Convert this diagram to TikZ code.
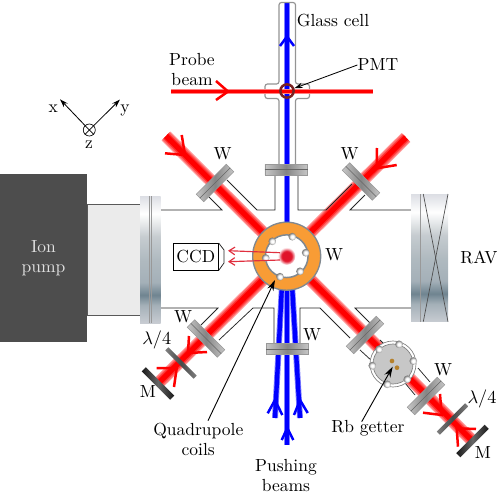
\documentclass[tikz,border=0pt]{standalone}
\usepackage{amsmath}
\usepackage{tikz}
\usetikzlibrary{arrows.meta,positioning,calc}
\definecolor{coil}{HTML}{F89C35}
\definecolor{rimgray}{HTML}{808890}
\definecolor{pump}{HTML}{4D4D4D}
\definecolor{tube}{HTML}{EBEBEB}
\definecolor{pmtred}{HTML}{7A2222}
\definecolor{brown}{HTML}{B5802A}
\definecolor{ccdred}{HTML}{E0303F}
\definecolor{motred}{HTML}{E0142A}
\definecolor{flga}{HTML}{DCDEE4}
\definecolor{flgb}{HTML}{C6CCD0}
\definecolor{flgc}{HTML}{B0BAC0}
\definecolor{flgd}{HTML}{A4B0B8}
\definecolor{flge}{HTML}{6F8490}
\definecolor{flgf}{HTML}{C8CCD2}
\pgfdeclareverticalshading{flange}{100bp}{color(0bp)=(flgf);color(25bp)=(flgf);color(32bp)=(flgd);color(36bp)=(flge);color(41bp)=(flgd);color(50bp)=(flgc);color(59bp)=(flgb);color(68bp)=(white);color(75bp)=(flga);color(100bp)=(flga)}
\pgfdeclareradialshading{motcloud}{\pgfpoint{0bp}{0bp}}{color(0bp)=(motred);color(14bp)=(motred);color(25bp)=(white);color(50bp)=(white)}
\pgfdeclareradialshading{bead}{\pgfpoint{0bp}{0bp}}{color(0bp)=(white);color(11bp)=(white);color(25bp)=(black!55);color(50bp)=(black!55)}

\begin{document}
\begin{tikzpicture}[
  x=0.6pt,y=-0.6pt,>=Stealth,
  font=\fontsize{10.5}{12}\selectfont,
  lbl/.style={inner sep=0pt, align=center},
  wall/.style={line width=0.45pt, color=black!85},
  leader/.style={-{Stealth[length=5pt,width=3.2pt]}, line width=0.5pt, color=black},
  bigleader/.style={-{Stealth[length=6.5pt,width=4pt]}, line width=0.55pt, color=black},
  chevr/.style={line width=1.5pt, color=red, line join=miter},
  chevb/.style={line width=1.5pt, color=blue, line join=miter},
  redbeam/.style={line width=7.6pt, color=red!38, postaction={draw, line width=6.4pt, color=red!58}, postaction={draw, line width=4.8pt, color=red!80}, postaction={draw, line width=3.2pt, color=red}},
  thinred/.style={line width=3.4pt, color=red!50, postaction={draw, line width=2.2pt, color=red}},
  bluebeam/.style={line width=3.6pt, color=blue!50, postaction={draw, line width=2.6pt, color=blue}},
  window/.style={rectangle, draw=black!40, line width=0.3pt, left color=black!22, right color=black!22, middle color=black!48, minimum width=25.5pt, minimum height=6.4pt, inner sep=0pt},
  plate/.style={rectangle, left color=black!50, right color=black!50, middle color=black!72, minimum width=24pt, minimum height=2.6pt, inner sep=0pt},
  mirror/.style={rectangle, left color=black!90, right color=black!90, middle color=black!60, minimum width=24pt, minimum height=3.6pt, inner sep=0pt},
  flangebox/.style={rectangle, shade, shading=flange, inner sep=0pt},
  knob/.style={circle, shade, shading=bead, minimum size=4.6pt, inner sep=0pt},
]
\useasboundingbox (0,0) rectangle (498,493);

% beams
\coordinate (pu0) at (287,3);
\coordinate (pu1) at (287,445);
\coordinate (pl0) at (282,285);
\coordinate (pl1) at (275,418);
\coordinate (pr0) at (292,285);
\coordinate (pr1) at (300,418);
\coordinate (prbL) at (171,91.5);
\coordinate (prbR) at (373,91.5);
\coordinate (bmA0) at (166,136);
\coordinate (bmA1) at (472.5,441);
\coordinate (bmB0) at (406,137.5);
\coordinate (bmB1) at (158,383.5);
\draw[bluebeam] (pu0) -- (pu1);
\draw[bluebeam] (pl0) -- (pl1);
\draw[bluebeam] (pr0) -- (pr1);
\draw[redbeam] (bmA0) -- (bmA1);
\draw[redbeam] (bmB0) -- (bmB1);

% glass cell
\draw[line width=0.7pt, color=black!42, rounded corners=1.5pt] (279,164) -- (279,98.5) -- (265,98.5) -- (265,84) -- (279,84) -- (279,2.5) -- (295.5,2.5) -- (295.5,84) -- (309.5,84) -- (309.5,98.5) -- (295.5,98.5) -- (295.5,164);
\draw[thinred] (prbL) -- (prbR);
\node[circle, draw=pmtred, line width=1.5pt, minimum size=8pt, inner sep=0pt] (pmtring) at (287,91) {};

% chamber walls
\draw[wall] (160,210) -- (222,210) -- (209,197);
\draw[wall] (227,180) -- (257,210) -- (275,210) -- (275,175);
\draw[wall] (298,175) -- (298,210) -- (326,210) -- (352,184);
\draw[wall] (411,210) -- (350,210) -- (365,195);
\draw[wall] (160,308) -- (218,308) -- (201,325);
\draw[wall] (219,340) -- (253,308) -- (274,308) -- (274,343);
\draw[wall] (300,343) -- (300,308) -- (320,308) -- (350,338);
\draw[wall] (411,308) -- (355,308) -- (377,330);
\draw[wall] (360,350) -- (372,361);
\draw[wall] (380,340) -- (389,349);
\draw[wall] (405,383) -- (415,395);
\draw[wall] (418,368) -- (430,382);

% ion pump side
\node[rectangle, fill=pump, minimum width=52.2pt, minimum height=100.8pt, inner sep=0pt, text=black!12, align=center] (pumpbox) at (43.5,258) {Ion\\pump};
\node[rectangle, draw=black!65, line width=0.45pt, fill=tube, minimum width=31.8pt, minimum height=66.6pt, inner sep=0pt] (tubebox) at (113.5,259.5) {};
\node[flangebox, minimum width=12.4pt, minimum height=76.2pt] (flgL) at (150.4,259.5) {};
\draw[line width=0.25pt, color=black!40] (149,196) -- (149,323);
\draw[line width=0.25pt, color=black!40] (151.5,196) -- (151.5,323);

% RAV
\node[flangebox, minimum width=22.2pt, minimum height=76.6pt] (flgR) at (429.5,258) {};
\draw[line width=0.25pt, color=black!40] (420.7,194) -- (420.7,321.7);
\draw[line width=0.4pt, color=black!70] (423.3,194) -- (448,321.7);
\draw[line width=0.4pt, color=black!70] (448,194) -- (423.3,321.7);

% windows
\node[window] (winT) at (286.2,169.5) {};
\node[window] (winB) at (287.3,349) {};
\node[window, rotate=45] (winUL) at (215,183) {};
\node[window, rotate=-45] (winUR) at (361,181.5) {};
\node[window, rotate=-45] (winLL) at (206,338.5) {};
\node[window, rotate=45] (winLR) at (365,335) {};
\node[window, rotate=45] (winRb) at (426,396) {};
\foreach \w in {winT,winB,winUL,winUR,winLL,winLR,winRb}{
  \draw[line width=0.25pt, color=black!60] (\w.west) -- (\w.east);
}

% waveplates and mirrors
\node[plate, rotate=-45] (qwL) at (181,363) {};
\node[plate, rotate=45] (qwR) at (452.5,419) {};
\node[mirror, rotate=-45] (mirL) at (158,383.5) {};
\node[mirror, rotate=45] (mirR) at (472.5,441) {};

% quadrupole coils
\node[circle, draw=rimgray, line width=0.8pt, fill=coil, minimum size=40.8pt, inner sep=0pt] (coilring) at (286.7,256.2) {};
\node[circle, draw=rimgray, line width=0.9pt, fill=white, minimum size=25.6pt, inner sep=0pt] (coilhole) at (286.7,256.2) {};
\node[circle, shade, shading=motcloud, minimum size=10.5pt, inner sep=0pt] (mot) at (286.7,256.2) {};
\foreach \kx/\ky in {272.3/241.3,292.3/236.7,305.7/252.7,300/271.3,280/276.7,265.7/258}{
  \node[knob] at (\kx,\ky) {};
}

% getter
\node[circle, draw=black!50, line width=0.4pt, fill=white, minimum size=27.6pt, inner sep=0pt] (gtout) at (393,364) {};
\node[circle, draw=black!50, line width=0.4pt, fill=black!22, minimum size=24pt, inner sep=0pt] (gtin) at (393,364) {};
\foreach \kx/\ky in {379/349.3,399/344.3,413.3/361,407.3/379.3,387.3/384.3,372.3/365.7}{
  \node[knob] at (\kx,\ky) {};
}
\node[circle, fill=brown, minimum size=2.8pt, inner sep=0pt] (rbA) at (392,361) {};
\node[circle, fill=brown, minimum size=2.8pt, inner sep=0pt] (rbB) at (397,367.7) {};

% CCD
\node[draw, line width=0.45pt, fill=white, minimum width=27pt, minimum height=16pt, inner sep=0pt] (ccd) at (195.8,256.7) {CCD};
\draw[wall] (ccd.north east) -- (224,250) -- (224,263) -- (ccd.south east);
\coordinate (imgA) at (280,252.7);
\coordinate (imgB) at (280,260);
\coordinate (ccdA) at (228,250.7);
\coordinate (ccdB) at (228,261.7);
\draw[-{Straight Barb[length=3.5pt,width=4.6pt]}, line width=0.7pt, color=ccdred] (imgA) -- (ccdA);
\draw[-{Straight Barb[length=3.5pt,width=4.6pt]}, line width=0.7pt, color=ccdred] (imgB) -- (ccdB);

% beam arrows
\draw[chevb] (280,46) -- (287,36.5) -- (294,46);
\draw[chevb] (267.7,413.3) -- (275,400) -- (282.3,415);
\draw[chevb] (294,415) -- (300,400) -- (307.7,413);
\draw[chevb] (281.7,440) -- (287.3,428) -- (293.3,440);
\draw[chevr] (216,81) -- (228,91.5) -- (216,100);
\draw[chevr] (181.7,135) -- (185,155) -- (165,153.3);
\draw[chevr] (377,148) -- (376.7,168.3) -- (396.7,165);
\draw[chevr] (189,336) -- (188,353) -- (207,352);
\draw[chevr] (156.7,368) -- (176.7,368) -- (174,387);
\draw[chevr] (440,394) -- (441.7,415) -- (423,412.7);
\draw[chevr] (476,429) -- (456.7,428.3) -- (458,446.7);

% axes
\node[circle, draw, line width=0.4pt, minimum size=7.2pt, inner sep=0pt] (zaxis) at (89.3,130) {};
\draw[line width=0.4pt] (zaxis.north west) -- (zaxis.south east);
\draw[line width=0.4pt] (zaxis.north east) -- (zaxis.south west);
\coordinate (xtip) at (60,99.3);
\coordinate (ytip) at (120,99.5);
\draw[leader] (zaxis) -- (xtip);
\draw[leader] (zaxis) -- (ytip);
\node[lbl] (lblx) at (53.3,109) {x};
\node[lbl] (lbly) at (125,111) {y};
\node[lbl] (lblz) at (89,145) {z};

% labels
\node[lbl] (lblcell) at (333,21) {Glass cell};
\node[lbl] (lblprobe) at (192,69.5) {Probe\\beam};
\node[lbl] (lblpmt) at (378,65) {PMT};
\node[lbl] (lblrav) at (479,257) {RAV};
\node[lbl] at (222.7,154) {W};
\node[lbl] at (349.5,154) {W};
\node[lbl] at (334,255) {W};
\node[lbl] at (183,316.7) {W};
\node[lbl] at (312,335) {W};
\node[lbl] at (443,370) {W};
\node[lbl] at (156.7,340) {$\lambda/4$};
\node[lbl] at (482,399) {$\lambda/4$};
\node[lbl] at (148,391.7) {M};
\node[lbl] at (483,452.7) {M};
\node[lbl] (lblquad) at (198.3,439) {Quadrupole\\coils};
\node[lbl] (lblrb) at (368,428) {Rb getter};
\node[lbl] (lblpush) at (286,476) {Pushing\\beams};

% leaders
\coordinate (quadtip) at (275,280);
\coordinate (rbtip) at (392.7,366.7);
\coordinate (quadtail) at (208,420.7);
\coordinate (rbtail) at (361.7,421.7);
\draw[leader] (lblpmt.west) -- (pmtring);
\draw[bigleader] (quadtail) -- (quadtip);
\draw[bigleader] (rbtail) -- (rbtip);

\end{tikzpicture}
\end{document}
